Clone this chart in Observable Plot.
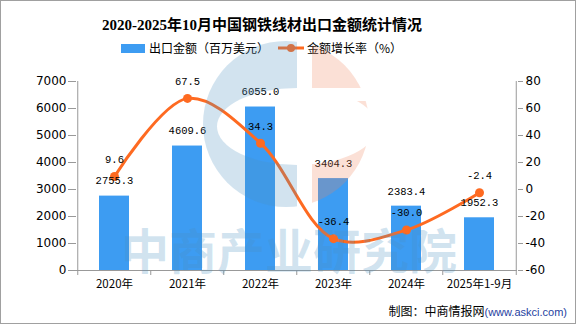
<!DOCTYPE html>
<html>
<head>
<meta charset="utf-8">
<script src="https://cdn.jsdelivr.net/npm/d3@7"></script>
<script src="https://cdn.jsdelivr.net/npm/@observablehq/plot@0.6"></script>
<style>
  html, body { margin: 0; padding: 0; background: #fff; }
  #wrap { position: relative; width: 576px; height: 324px; overflow: hidden; background: #fff; }
  #border { position: absolute; left: 0; top: 0; width: 576px; height: 324px; box-sizing: border-box; border: 1px solid #a0a0a0; pointer-events: none; z-index: 5; }
  #title { position: absolute; top: 15px; left: 262px; transform: translateX(-50%); white-space: nowrap;
           font: bold 15px "Liberation Serif", "Noto Sans CJK SC", serif; color: #000; line-height: 20px; }
  #legend { position: absolute; top: 40px; left: 0; height: 16px; font: 12px "Noto Sans CJK SC", sans-serif; color: #000; }
  .lg { position: absolute; top: 0; white-space: nowrap; line-height: 16px; }
  #chart { position: absolute; top: 58px; left: 0; }
  #footer { position: absolute; top: 302px; right: 9px; white-space: nowrap; line-height: 18px; }
  #footer .a { font: 12px "Noto Sans CJK SC", sans-serif; color: #000; }
  #footer .b { font: 11px "Liberation Sans", Arial, sans-serif; color: #1f3f9f; }
  #wm { position: absolute; left: 0; top: 0; pointer-events: none; z-index: 4; }
</style>
</head>
<body>
<div id="wrap">
  <div id="title">2020-2025年10月中国钢铁线材出口金额统计情况</div>
  <div id="legend">
    <svg class="lg" style="left:121px;top:4px" width="25" height="9"><rect x="0" y="0" width="24" height="9" fill="#3d9cf2"/></svg>
    <div class="lg" style="left:149px">出口金额（百万美元）</div>
    <svg class="lg" style="left:277px;top:3px" width="28" height="10"><line x1="1" x2="27" y1="5" y2="5" stroke="#fe6a21" stroke-width="3"/><circle cx="14" cy="5" r="4" fill="#fe6a21"/></svg>
    <div class="lg" style="left:307px">金额增长率（%）</div>
  </div>
  <div id="chart"></div>
  <div id="footer"><span class="a">制图：中商情报网</span><span class="b">(www.askci.com)</span></div>
  <svg id="wm" width="576" height="324">
    <defs>
      <mask id="logoMask">
        <rect x="0" y="0" width="576" height="324" fill="black"/>
        <circle cx="286" cy="124" r="83" fill="white"/>
        <ellipse cx="297" cy="126.5" rx="80" ry="38.5" fill="black"/>
        <rect x="297" y="0" width="15" height="324" fill="black"/>
        <rect x="312" y="88" width="80" height="13" fill="black"/>
      </mask>
    </defs>
    <g mask="url(#logoMask)">
      <rect x="190" y="30" width="107" height="190" fill="#4a8fbf" fill-opacity="0.25"/>
      <rect x="312" y="30" width="80" height="190" fill="#f0825a" fill-opacity="0.25"/>
    </g>
    <text x="289" y="269" text-anchor="middle" font-family="Noto Sans CJK SC" font-weight="bold" font-size="48" fill="#4a8fbf" fill-opacity="0.25">中商产业研究院</text>
  </svg>
  <div id="border"></div>
</div>
<script>
const categories = ["2020年", "2021年", "2022年", "2023年", "2024年", "2025年1-9月"];
const exportValues = [2755.3, 4609.6, 6055.0, 3404.3, 2383.4, 1952.3];
const growthRates = [9.6, 67.5, 34.3, -36.4, -30.0, -2.4];
const leftTicks = [0, 1000, 2000, 3000, 4000, 5000, 6000, 7000];
const rightTicks = [-60, -40, -20, 0, 20, 40, 60, 80];

const leftMax = 7000, rMin = -60, rMax = 80;
const toLeft = g => (g - rMin) / (rMax - rMin) * leftMax;
const toRight = v => Math.round(v / leftMax * (rMax - rMin) + rMin);

const data = categories.map((c, i) => ({
  cat: c, value: exportValues[i], growth: growthRates[i], gy: toLeft(growthRates[i])
}));

const W = 576, mL = 76, mR = 59;
const step = (W - mL - mR) / categories.length;
const last = categories[categories.length - 1];
const monoFont = "Liberation Mono, DejaVu Sans Mono, monospace";
const tickFont = "DejaVu Sans, sans-serif";

const chart = Plot.plot({
  width: W,
  height: 242,
  marginTop: 23,
  marginBottom: 30,
  marginLeft: mL,
  marginRight: mR,
  style: { fontFamily: "Noto Sans CJK SC, sans-serif", fontSize: "12px", color: "#000", background: "transparent" },
  x: { type: "band", domain: categories, paddingInner: 0.59, paddingOuter: 0.295, label: null },
  y: { domain: [0, leftMax], label: null },
  marks: [
    Plot.barY(data, { x: "cat", y: "value", fill: "#3d9cf2" }),
    Plot.ruleY([0], { stroke: "#999" }),
    Plot.ruleX([categories[0]], { x: d => d, y1: 0, y2: leftMax, dx: -step / 2, stroke: "#999" }),
    Plot.ruleX([last], { x: d => d, y1: 0, y2: leftMax, dx: step / 2, stroke: "#999" }),
    Plot.ruleX(categories, { x: d => d, y1: 0, y2: 0, insetBottom: -5, dx: -step / 2, stroke: "#999" }),
    Plot.ruleX([last], { x: d => d, y1: 0, y2: 0, insetBottom: -5, dx: step / 2, stroke: "#999" }),
    Plot.axisY({ ticks: leftTicks, tickFormat: d => `${d}`, tickSize: 8, tickPadding: 2, stroke: "#999", fill: "#000", fontFamily: tickFont, fontSize: 12, label: null }),
    Plot.axisY({ anchor: "right", ticks: rightTicks.map(toLeft), tickFormat: v => `${toRight(v)}`, tickSize: 5, tickPadding: 3, stroke: "#999", fill: "#000", fontFamily: tickFont, fontSize: 12, label: null }),
    Plot.axisX({ tickSize: 0, tickPadding: 9, fontSize: 11.5, label: null }),
    Plot.line(data, { x: "cat", y: "gy", stroke: "#fe6a21", strokeWidth: 3, curve: "catmull-rom" }),
    Plot.dot(data, { x: "cat", y: "gy", r: 4.5, fill: "#fe6a21" }),
    Plot.text(data, { x: "cat", y: "value", text: d => d.value.toFixed(1), dy: -15, fontFamily: monoFont, fontSize: 10.5, fill: "#000" }),
    Plot.text(data, { x: "cat", y: "gy", text: d => d.growth.toFixed(1), dy: -17, fontFamily: monoFont, fontSize: 10.5, fill: "#000" })
  ]
});
document.getElementById("chart").appendChild(chart);
</script>
</body>
</html>
